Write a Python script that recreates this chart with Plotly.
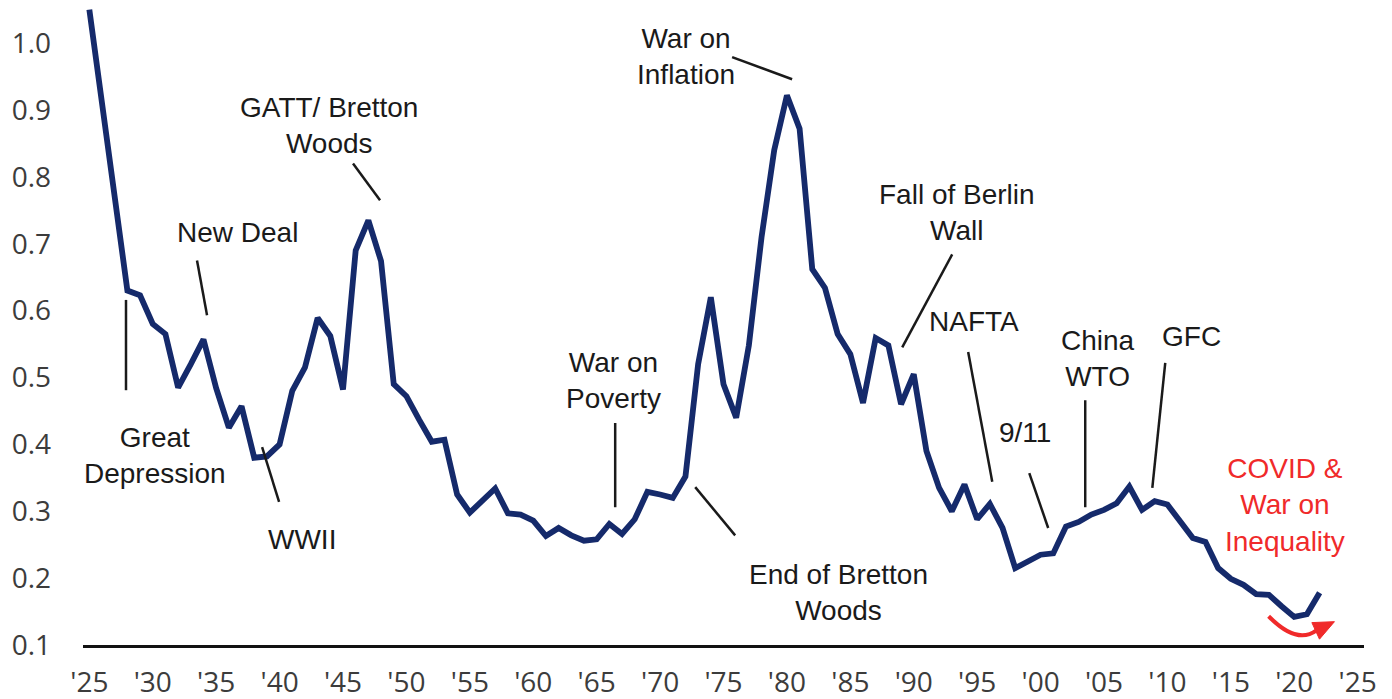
import plotly.graph_objects as go

# series
years = list(range(1925, 2023))
values = [
    1.05, 0.91, 0.77, 0.63, 0.623, 0.58, 0.565, 0.485, 0.52, 0.557,
    0.484, 0.425, 0.457, 0.38, 0.382, 0.40, 0.48, 0.515, 0.589, 0.562,
    0.482, 0.69, 0.735, 0.674, 0.49, 0.472, 0.437, 0.404, 0.407, 0.325,
    0.298, 0.316, 0.334, 0.297, 0.295, 0.286, 0.263, 0.275, 0.264, 0.256,
    0.258, 0.281, 0.266, 0.288, 0.329, 0.325, 0.32, 0.352, 0.52, 0.62,
    0.49, 0.44, 0.548, 0.71, 0.84, 0.922, 0.872, 0.662, 0.634, 0.565,
    0.535, 0.462, 0.559, 0.548, 0.46, 0.505, 0.39, 0.335, 0.30, 0.34,
    0.288, 0.311, 0.275, 0.215, 0.225, 0.235, 0.237, 0.277, 0.284, 0.295,
    0.302, 0.312, 0.337, 0.302, 0.315, 0.31, 0.285, 0.26, 0.254, 0.215,
    0.199, 0.19, 0.176, 0.175, 0.158, 0.142, 0.146, 0.178,
]

x_tick_vals = list(range(1925, 2026, 5))
x_tick_text = ["'" + str(y)[2:] for y in x_tick_vals]
y_tick_vals = [0.1, 0.2, 0.3, 0.4, 0.5, 0.6, 0.7, 0.8, 0.9, 1.0]
y_tick_text = ['0.1', '0.2', '0.3', '0.4', '0.5', '0.6', '0.7', '0.8', '0.9', '1.0']

event_labels = [
    'Great<br>Depression', 'New Deal', 'GATT/ Bretton<br>Woods', 'WWII',
    'War on<br>Poverty', 'End of Bretton<br>Woods', 'War on<br>Inflation',
    'Fall of Berlin<br>Wall', 'NAFTA', '9/11', 'China<br>WTO', 'GFC',
]
covid_label = 'COVID &<br>War on<br>Inequality'

NAVY = '#152a6b'
RED = '#f02a2a'
INK = '#1a1a1a'

# label centres and pointer lines (x0, y0, x1, y1), data coords
label_pos = [
    (1930.18, 0.384), (1936.72, 0.717), (1943.90, 0.877), (1941.77, 0.258),
    (1966.30, 0.496), (1984.04, 0.178), (1972.06, 0.980), (1993.43, 0.747),
    (1994.77, 0.584), (1998.79, 0.418), (2004.55, 0.529), (2011.88, 0.562),
]
pointers = [
    (1927.89, 0.616, 1927.89, 0.481),
    (1933.49, 0.675, 1934.28, 0.593),
    (1945.79, 0.820, 1947.92, 0.765),
    (1938.62, 0.396, 1939.96, 0.314),
    (1966.46, 0.432, 1966.46, 0.306),
    (1972.77, 0.336, 1975.92, 0.264),
    (1975.68, 0.979, 1980.41, 0.946),
    (1993.03, 0.684, 1989.09, 0.545),
    (1994.29, 0.538, 1996.19, 0.344),
    (1999.11, 0.357, 2000.60, 0.275),
    (2003.52, 0.466, 2003.52, 0.306),
    (2009.83, 0.522, 2008.81, 0.335),
]

fig = go.Figure()

fig.add_trace(
    go.Scatter(
        x=years,
        y=values,
        mode='lines',
        line=dict(color=NAVY, width=5.8),
        showlegend=False,
        hoverinfo='skip',
    ),
)

for text, (ax, ay) in zip(event_labels, label_pos):
    fig.add_annotation(
        x=ax, y=ay, text=text, showarrow=False,
        font=dict(family='Liberation Sans', size=28, color=INK),
        xanchor='center', yanchor='middle', align='center',
    )

for x0, y0, x1, y1 in pointers:
    fig.add_shape(
        type='line', x0=x0, y0=y0, x1=x1, y1=y1,
        xref='x', yref='y', line=dict(color=INK, width=2.5),
    )

fig.add_annotation(
    x=2019.29, y=0.309, text=covid_label, showarrow=False,
    font=dict(family='Liberation Sans', size=28, color=RED),
    xanchor='center', yanchor='middle', align='center',
)

# curved red arrow
fig.add_shape(
    type='path',
    path='M 2017.98,0.143 Q 2020.2,0.100 2021.75,0.122',
    xref='x', yref='y', line=dict(color=RED, width=4),
)
fig.add_shape(
    type='path',
    path='M 2023.17,0.1349 L 2021.39,0.1335 L 2021.99,0.1087 Z',
    xref='x', yref='y', fillcolor=RED, line=dict(color=RED, width=1),
)

fig.update_layout(
    width=1392,
    height=699,
    margin=dict(l=83, r=28, t=3, b=54),
    paper_bgcolor='white',
    plot_bgcolor='white',
    showlegend=False,
    xaxis=dict(
        range=[1924.5, 2025.5],
        tickvals=x_tick_vals,
        ticktext=x_tick_text,
        showgrid=False,
        zeroline=False,
        showline=True,
        linecolor='#111111',
        linewidth=3,
        ticks='',
        automargin=False,
        ticklabelstandoff=10,
        tickfont=dict(family='Open Sans', size=28, color='#3c3c3c'),
    ),
    yaxis=dict(
        range=[0.1, 1.06],
        tickvals=y_tick_vals,
        ticktext=y_tick_text,
        showgrid=False,
        zeroline=False,
        showline=False,
        ticks='',
        automargin=False,
        ticklabelstandoff=31,
        tickfont=dict(family='Open Sans', size=28, color='#3c3c3c'),
    ),
)

fig.write_html(
    'out.html',
    config=dict(displayModeBar=False),
    post_script="document.body.style.margin='0px';",
)
